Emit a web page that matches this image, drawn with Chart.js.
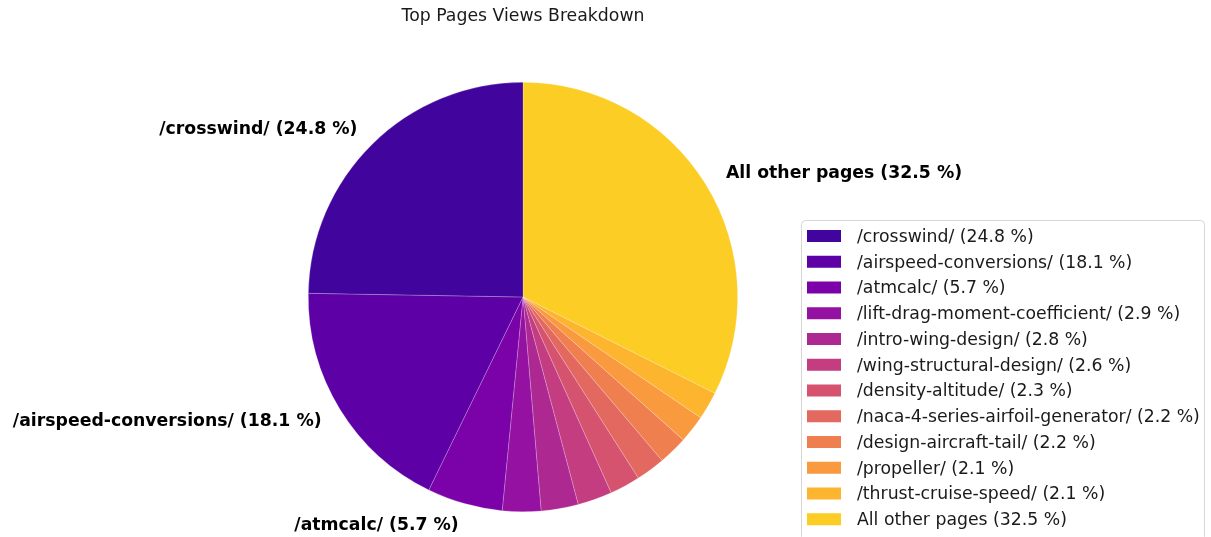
<!DOCTYPE html>
<html>
<head>
<meta charset="utf-8">
<title>Top Pages Views Breakdown</title>
<script src="https://cdn.jsdelivr.net/npm/chart.js@4/dist/chart.umd.min.js"></script>
<style>
  html, body { margin: 0; padding: 0; background: #ffffff; }
  #wrap { width: 1211px; height: 537px; }
</style>
</head>
<body>
<div id="wrap"><canvas id="chart" width="1211" height="537"></canvas></div>
<script>
// Page view shares (percent), in legend order
const pages = [
  '/crosswind/',
  '/airspeed-conversions/',
  '/atmcalc/',
  '/lift-drag-moment-coefficient/',
  '/intro-wing-design/',
  '/wing-structural-design/',
  '/density-altitude/',
  '/naca-4-series-airfoil-generator/',
  '/design-aircraft-tail/',
  '/propeller/',
  '/thrust-cruise-speed/',
  'All other pages'
];
const shares = [24.8, 18.1, 5.7, 2.9, 2.8, 2.6, 2.3, 2.2, 2.2, 2.1, 2.1, 32.5];

// Plasma colormap samples, one per page
const colors = [
  '#41049d', '#5d01a6', '#7a02a8', '#9511a1', '#ae2892', '#c33d80',
  '#d5536f', '#e3685f', '#f07f4f', '#f99a3e', '#fdb42f', '#fccd25'
];

const chartTitle = 'Top Pages Views Breakdown';
const labelThreshold = 5; // slices above this share get an outside label

const labelText = i => `${pages[i]} (${shares[i].toFixed(1)} %)`;

// Chart.js sweeps clockwise from the top; reversing the order gives the
// counter-clockwise layout with the first page starting at 12 o'clock.
const order = pages.map((_, i) => i).reverse();

const FONT = '"DejaVu Sans", Verdana, sans-serif';
const FS = 17.3;

const overlay = {
  id: 'overlay',
  afterDraw(chart) {
    const ctx = chart.ctx;
    const meta = chart.getDatasetMeta(0);
    ctx.save();

    // title
    ctx.fillStyle = '#1a1a1a';
    ctx.font = `${FS}px ${FONT}`;
    ctx.textAlign = 'center';
    ctx.textBaseline = 'middle';
    const c0 = meta.data[0];
    ctx.fillText(chartTitle, c0.x, 17);

    // outside slice labels
    ctx.font = `bold ${FS}px ${FONT}`;
    ctx.fillStyle = '#000000';
    meta.data.forEach((arc, k) => {
      const i = order[k];
      if (shares[i] <= labelThreshold) return;
      const mid = (arc.startAngle + arc.endAngle) / 2;
      const r = arc.outerRadius * 1.1;
      const x = arc.x + Math.cos(mid) * r;
      const y = arc.y + Math.sin(mid) * r;
      ctx.textAlign = Math.cos(mid) < 0 ? 'right' : 'left';
      ctx.textBaseline = 'middle';
      ctx.fillText(labelText(i), x + (Math.cos(mid) < 0 ? 0 : 2), y + 1);
    });

    // legend box
    const bx = 801.5, by = 220.5, bw = 403, bh = 320, rad = 4;
    ctx.beginPath();
    ctx.moveTo(bx + rad, by);
    ctx.lineTo(bx + bw - rad, by);
    ctx.arcTo(bx + bw, by, bx + bw, by + rad, rad);
    ctx.lineTo(bx + bw, by + bh - rad);
    ctx.arcTo(bx + bw, by + bh, bx + bw - rad, by + bh, rad);
    ctx.lineTo(bx + rad, by + bh);
    ctx.arcTo(bx, by + bh, bx, by + bh - rad, rad);
    ctx.lineTo(bx, by + rad);
    ctx.arcTo(bx, by, bx + rad, by, rad);
    ctx.closePath();
    ctx.fillStyle = 'rgba(255,255,255,0.8)';
    ctx.fill();
    ctx.strokeStyle = '#d6d6d6';
    ctx.lineWidth = 1;
    ctx.stroke();

    ctx.font = `${FS}px ${FONT}`;
    ctx.textAlign = 'left';
    ctx.textBaseline = 'middle';
    pages.forEach((p, i) => {
      const cy = 236 + i * 25.75;
      ctx.fillStyle = colors[i];
      ctx.fillRect(807, cy - 6, 34, 12);
      ctx.fillStyle = '#1a1a1a';
      ctx.fillText(labelText(i), 857, cy + 1.5);
    });

    ctx.restore();
  }
};

new Chart(document.getElementById('chart'), {
  type: 'pie',
  data: {
    labels: order.map(i => pages[i]),
    datasets: [{
      data: order.map(i => shares[i]),
      backgroundColor: order.map(i => colors[i]),
      borderWidth: 0.6,
      borderColor: 'rgba(255,255,255,0.35)'
    }]
  },
  options: {
    responsive: false,
    animation: false,
    rotation: 0,
    layout: { padding: { left: 308, right: 473, top: 82, bottom: 25 } },
    plugins: {
      legend: { display: false },
      title: { display: false },
      tooltip: { enabled: false }
    }
  },
  plugins: [overlay]
});
</script>
</body>
</html>
